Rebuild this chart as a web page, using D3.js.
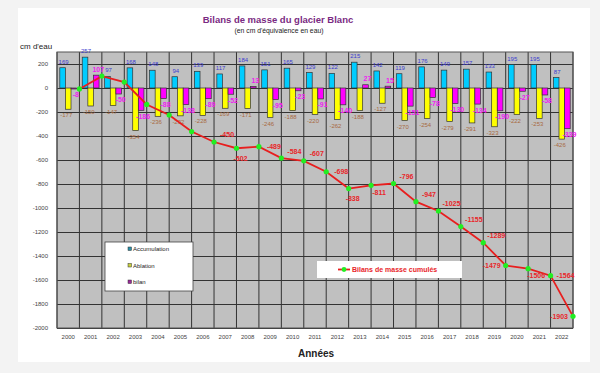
<!DOCTYPE html>
<html>
<head>
<meta charset="utf-8">
<script src="https://cdn.jsdelivr.net/npm/d3@7"></script>
<style>
  body { margin: 0; background: #f3f3f3; }
  svg { display: block; font-family: "Liberation Sans", Arial, sans-serif; }
</style>
</head>
<body>
<script>
// data
var years = ["2000","2001","2002","2003","2004","2005","2006","2007","2008","2009","2010","2011",
             "2012","2013","2014","2015","2016","2017","2018","2019","2020","2021","2022"];
var accumulation = [169,257,97,168,148,94,139,117,184,151,165,129,122,215,142,119,176,149,157,133,195,195,87];
var ablation = [-177,-150,-147,-354,-236,-232,-228,-169,-171,-246,-188,-220,-262,-188,-127,-270,-254,-279,-291,-323,-222,-253,-426];
var bilan = [-8,107,-50,-186,-88,-138,-89,-52,13,-95,-23,-91,-140,27,15,-151,-78,-130,-134,-190,-27,-58,-339];
var cumul = [-8,99,49,-137,-225,-363,-450,-502,-489,-584,-607,-698,-838,-811,-796,-947,-1025,-1155,-1289,-1479,-1506,-1564,-1903];
var yTicks = [200,0,-200,-400,-600,-800,-1000,-1200,-1400,-1600,-1800,-2000];

var width = 600, height = 373;
var plotLeft = 57, plotRight = 573, plotTop = 52, plotBottom = 328;

var svg = d3.select("body").append("svg")
    .attr("width", width)
    .attr("height", height);

// white card
svg.append("rect").attr("x", 18).attr("y", 8).attr("width", 572).attr("height", 354).attr("fill", "#fff");

// titles
svg.append("text").attr("x", 278).attr("y", 23).attr("text-anchor", "middle")
    .attr("font-size", 9.5).attr("font-weight", "bold").attr("fill", "#7a2a82")
    .text("Bilans de masse du glacier Blanc");
svg.append("text").attr("x", 279).attr("y", 33).attr("text-anchor", "middle")
    .attr("font-size", 6.8).attr("fill", "#222")
    .text("(en cm d'équivalence en eau)");
svg.append("text").attr("x", 20).attr("y", 49)
    .attr("font-size", 8).attr("fill", "#222")
    .text("cm d'eau");

var x = d3.scaleBand().domain(years).range([plotLeft, plotRight]).padding(0);
var sub = d3.scaleBand().domain(["acc","abl","bil"]).range([0, x.bandwidth()])
    .paddingInner(0).paddingOuter(0.5);
var y = d3.scaleLinear().domain([-2000, 300]).range([plotBottom, plotTop]);

// plot background
svg.append("rect").attr("x", plotLeft).attr("y", plotTop)
    .attr("width", plotRight - plotLeft).attr("height", plotBottom - plotTop)
    .attr("fill", "#c0c0c0");

// horizontal grid
svg.append("g")
    .attr("transform", "translate(" + plotLeft + ",0)")
    .call(d3.axisLeft(y).tickValues(yTicks).tickSize(-(plotRight - plotLeft)).tickFormat(""))
    .call(function(g) {
        g.select(".domain").remove();
        g.selectAll("line").attr("stroke", "#333").attr("stroke-width", 1);
    });

// vertical grid at category edges
svg.append("g").selectAll("line")
    .data(years.concat(["end"]))
    .enter().append("line")
    .attr("x1", function(d) { return d === "end" ? plotRight : x(d); })
    .attr("x2", function(d) { return d === "end" ? plotRight : x(d); })
    .attr("y1", plotTop).attr("y2", plotBottom)
    .attr("stroke", "#333").attr("stroke-width", 1);

svg.append("rect").attr("x", plotLeft).attr("y", plotTop)
    .attr("width", plotRight - plotLeft).attr("height", plotBottom - plotTop)
    .attr("fill", "none").attr("stroke", "#555").attr("stroke-width", 1);

// y axis labels
svg.append("g")
    .attr("transform", "translate(" + plotLeft + ",0)")
    .call(d3.axisLeft(y).tickValues(yTicks).tickSize(0).tickPadding(9)
        .tickFormat(function(d) { return String(d); }))
    .call(function(g) {
        g.select(".domain").remove();
        g.selectAll("text").attr("font-size", 6).attr("fill", "#444")
            .attr("font-family", "Liberation Sans, Arial, sans-serif");
    });

// x axis labels
svg.append("g")
    .attr("transform", "translate(0," + plotBottom + ")")
    .call(d3.axisBottom(x).tickSize(0).tickPadding(7))
    .call(function(g) {
        g.select(".domain").remove();
        g.selectAll("text").attr("font-size", 6).attr("fill", "#444")
            .attr("font-family", "Liberation Sans, Arial, sans-serif");
    });

svg.append("text").attr("x", 316).attr("y", 357).attr("text-anchor", "middle")
    .attr("font-size", 10).attr("font-weight", "bold").attr("fill", "#222")
    .text("Années");

// bars
var series = [
    { key: "acc", values: accumulation, fill: "#00ccff", label: "#3c3cd0" },
    { key: "abl", values: ablation, fill: "#ffff00", label: "#a86a40" },
    { key: "bil", values: bilan, fill: "#ff00ff", label: "#f020f0" }
];

series.forEach(function(s) {
    var g = svg.append("g");
    g.selectAll("rect")
        .data(s.values)
        .enter().append("rect")
        .attr("x", function(d, i) { return x(years[i]) + sub(s.key); })
        .attr("width", sub.bandwidth())
        .attr("y", function(d) { return y(Math.max(0, d)); })
        .attr("height", function(d) { return Math.abs(y(d) - y(0)); })
        .attr("fill", s.fill)
        .attr("stroke", "#333").attr("stroke-width", 0.7);

    var dxLab = s.key === "abl" ? -2 : (s.key === "bil" ? 2 : 1);
    g.selectAll("text")
        .data(s.values)
        .enter().append("text")
        .attr("x", function(d, i) { return x(years[i]) + sub(s.key) + sub.bandwidth() / 2 + dxLab; })
        .attr("y", function(d) { return d >= 0 ? y(d) - 6 : y(d) + 6; })
        .attr("dy", "0.35em")
        .attr("text-anchor", "middle")
        .attr("font-size", s.key === "bil" ? 7 : 6)
        .attr("font-weight", s.key === "bil" ? "bold" : "normal")
        .attr("fill", s.label)
        .text(function(d) { return d; });
});

// cumulative line
var cx = function(d, i) { return x(years[i]) + x.bandwidth(); };
svg.append("path")
    .datum(cumul)
    .attr("d", d3.line().x(cx).y(function(d) { return y(d); }))
    .attr("fill", "none").attr("stroke", "#e81e1e").attr("stroke-width", 1.8);

svg.append("g").selectAll("circle")
    .data(cumul)
    .enter().append("circle")
    .attr("cx", cx).attr("cy", function(d) { return y(d); })
    .attr("r", 2.6).attr("fill", "#22ee22");

var cumLabelPlace = [null, null, null, null, null, null,
    "ar", "b", "r", "ar", "ar", "r", "b", "br", "ar", "ar", "ar", "ar", "ar", "l", "br", "r", "l"];
var placeOffset = { ar: [13, -7], b: [4, 10], br: [8, 7], r: [15, 0], l: [-14, 0] };

var cumLabels = cumul.map(function(d, i) { return { v: d, i: i, p: cumLabelPlace[i] }; })
    .filter(function(d) { return d.p; });

svg.append("g").selectAll("text")
    .data(cumLabels)
    .enter().append("text")
    .attr("x", function(d) { return cx(d.v, d.i) + placeOffset[d.p][0]; })
    .attr("y", function(d) { return y(d.v) + placeOffset[d.p][1]; })
    .attr("dy", "0.35em")
    .attr("text-anchor", "middle")
    .attr("font-size", 7).attr("font-weight", "bold").attr("fill", "#e8262a")
    .text(function(d) { return d.v; });

// legend for bars
var leg = svg.append("g");
leg.append("rect").attr("x", 105).attr("y", 242).attr("width", 88).attr("height", 49)
    .attr("fill", "#fff").attr("stroke", "#444").attr("stroke-width", 0.8);
var legNames = ["Accumulation", "Ablation", "bilan"];
var legColors = ["#2a8fa8", "#c8d040", "#9a2a9a"];
legNames.forEach(function(n, i) {
    leg.append("rect").attr("x", 128).attr("y", 247 + i * 16.5).attr("width", 3.5).attr("height", 3.5)
        .attr("fill", legColors[i]).attr("stroke", "#333").attr("stroke-width", 0.5);
    leg.append("text").attr("x", 133).attr("y", 251 + i * 16.5)
        .attr("font-size", 6).attr("fill", "#222").text(n);
});

// legend for cumulative line
var leg2 = svg.append("g");
leg2.append("rect").attr("x", 317).attr("y", 261).attr("width", 145).attr("height", 17).attr("fill", "#fff");
leg2.append("line").attr("x1", 338).attr("x2", 350).attr("y1", 269.5).attr("y2", 269.5)
    .attr("stroke", "#e81e1e").attr("stroke-width", 1.8);
leg2.append("circle").attr("cx", 344).attr("cy", 269.5).attr("r", 2.4).attr("fill", "#22ee22");
leg2.append("text").attr("x", 352).attr("y", 272)
    .attr("font-size", 7).attr("font-weight", "bold").attr("fill", "#e8262a")
    .text("Bilans de masse cumulés");
</script>
</body>
</html>
